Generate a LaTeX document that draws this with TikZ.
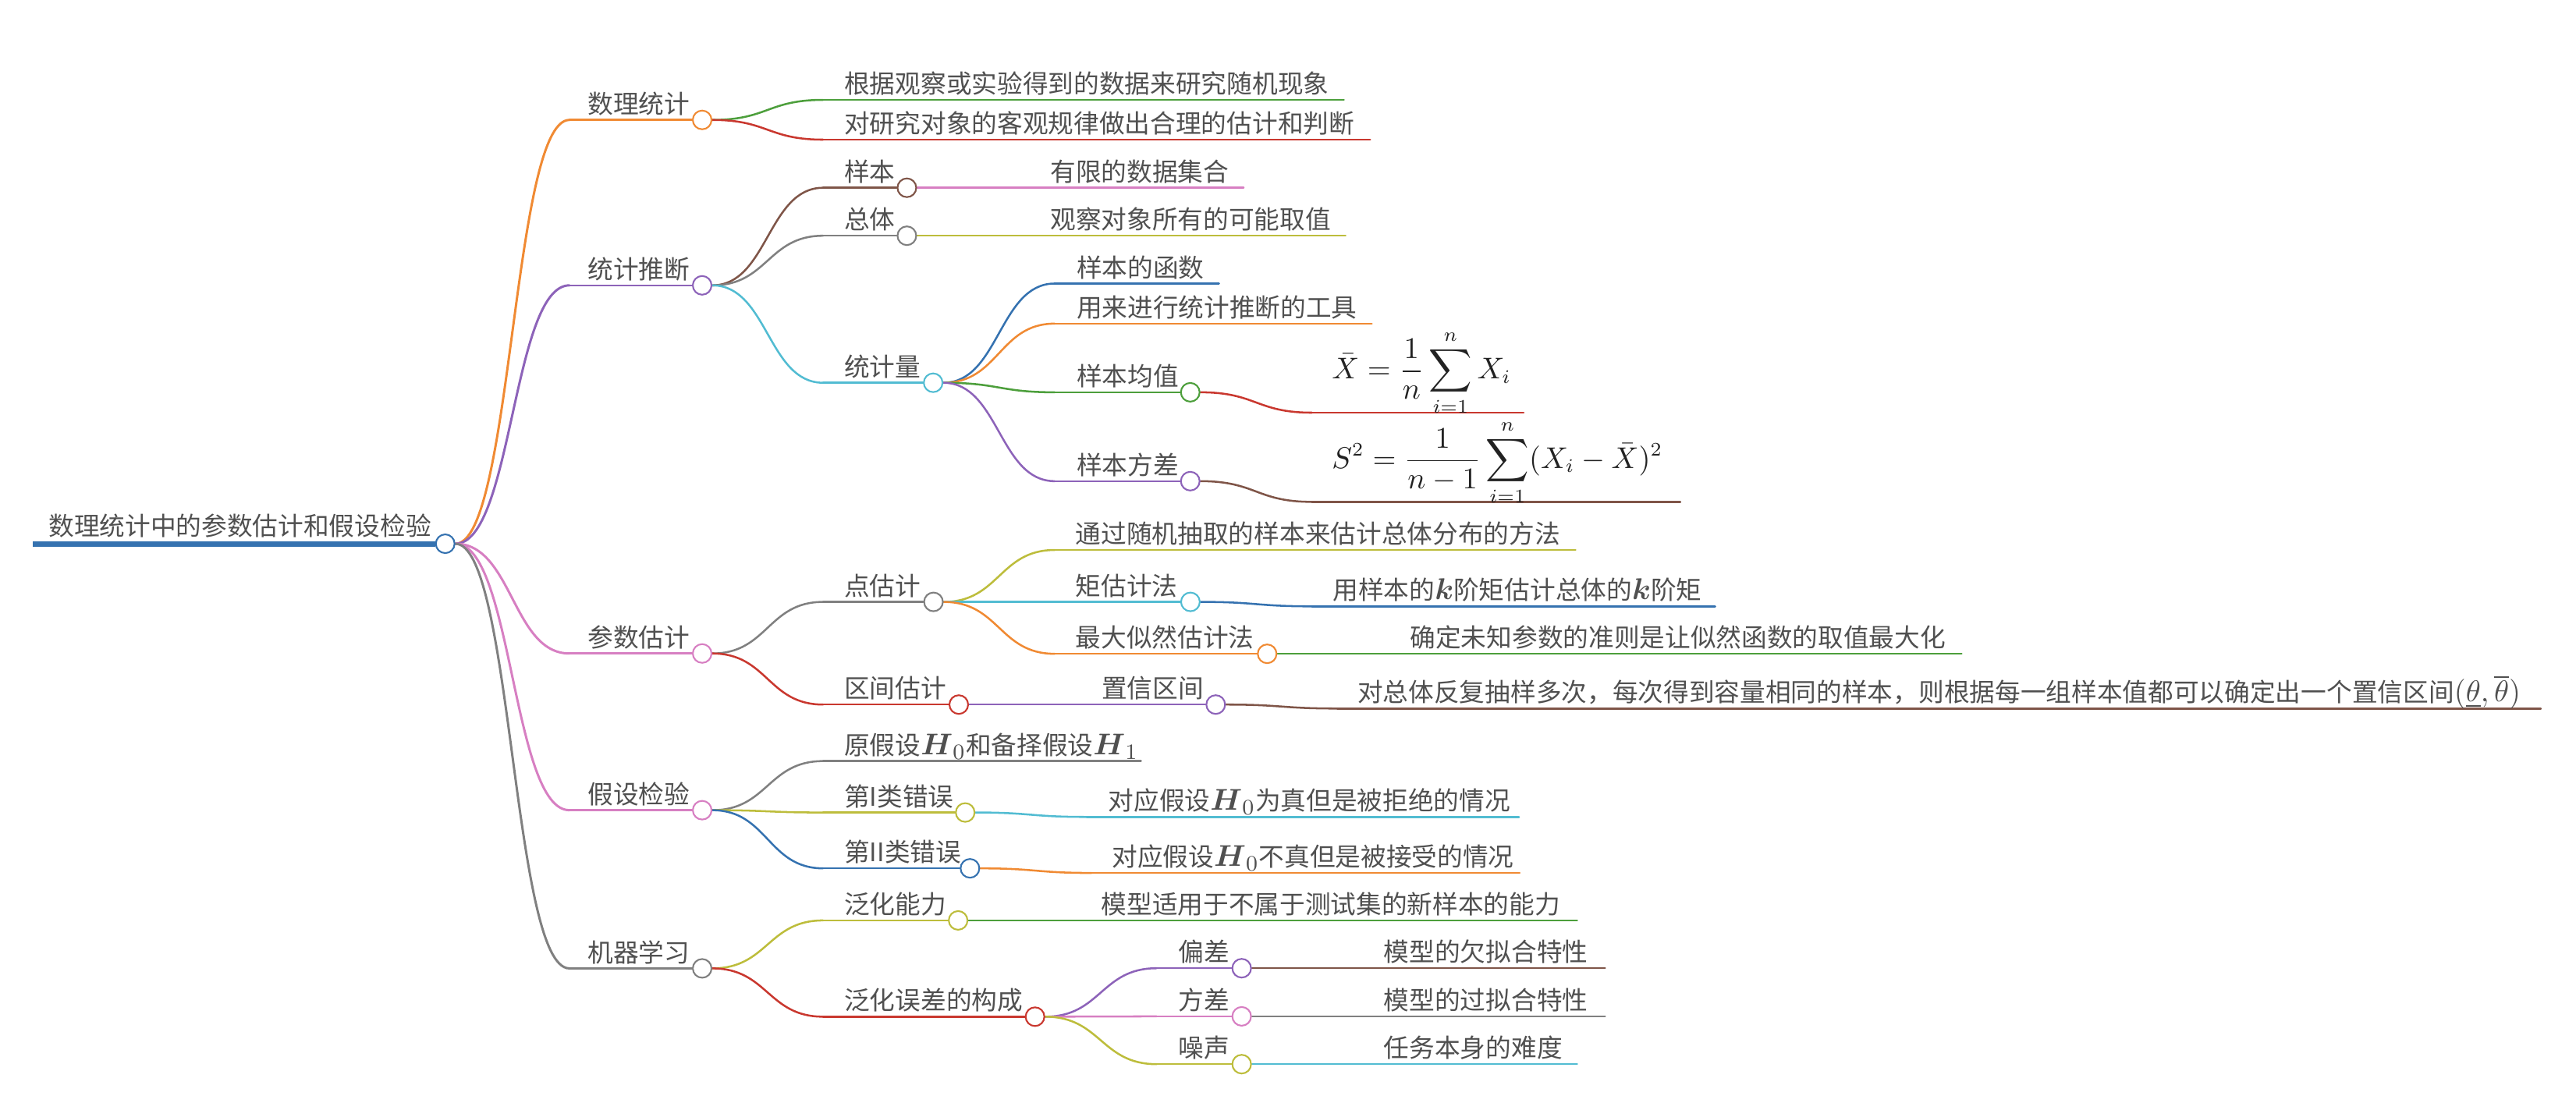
\documentclass[tikz,border=0pt]{standalone}
\usepackage{amsmath}
\usepackage[no-math]{fontspec}
\newfontfamily\cjkf{Noto Sans CJK SC}
\usetikzlibrary{calc}
\definecolor{blueC}{HTML}{3572B0}
\definecolor{orangeC}{HTML}{F08A33}
\definecolor{greenC}{HTML}{4D9F3C}
\definecolor{redC}{HTML}{C9382F}
\definecolor{purpleC}{HTML}{8D63B9}
\definecolor{brownC}{HTML}{7F5548}
\definecolor{pinkC}{HTML}{D77FC2}
\definecolor{grayC}{HTML}{808080}
\definecolor{oliveC}{HTML}{BDBD3C}
\definecolor{cyanC}{HTML}{52BCD2}
\definecolor{txtC}{HTML}{505050}
\definecolor{fmlC}{HTML}{222222}
\pgfdeclarelayer{bg}
\pgfsetlayers{bg,main}
\tikzset{
  txt/.style={font=\cjkf\fontsize{9.3}{11}\selectfont, text=txtC, inner sep=0pt, anchor=base west},
  fml/.style={font=\fontsize{10.7}{13}\selectfont, text=fmlC, inner sep=0pt, anchor=base west},
  dot/.style={circle, draw=#1, fill=white, line width=0.6pt, minimum size=0.24cm, inner sep=0pt},
  branch/.style={draw=#1, line width=0.72pt, line cap=round},
  branchA/.style={draw=#1, line width=0.85pt, line cap=round},
  rootline/.style={draw=#1, line width=2pt},
}
\newcommand{\mmH}[1]{{\fontsize{11}{13}\selectfont$\boldsymbol{H}_{#1}$}}
\newcommand{\mmk}{{\fontsize{11}{13}\selectfont$\boldsymbol{k}$}}
% name, start x, text x, line y, end x, colour, text
\newcommand{\mmnode}[7]{%
  \coordinate (#1s) at (#2,#4);
  \node[txt] (#1t) at (#3,{#4-4}) {#7};
  \node[dot=#6] (#1) at (#5,#4) {};
  \begin{pgfonlayer}{bg}\draw[branch=#6] (#1s) -- (#1);\end{pgfonlayer}}
\newcommand{\mmleaf}[7]{%
  \coordinate (#1s) at (#2,#4);
  \node[txt] (#1t) at (#3,{#4-4}) {#7};
  \coordinate (#1) at (#5,#4);
  \begin{pgfonlayer}{bg}\draw[branch=#6] (#1s) -- (#1);\end{pgfonlayer}}
\newcommand{\mmlink}[4][branch]{%
  \begin{pgfonlayer}{bg}
  \draw[#1=#2] let \p1=(#3.east), \p2=(#4s) in
    (\p1) .. controls ({(\x1+\x2)/2},\y1) and ({(\x1+\x2)/2},\y2) .. (\p2);
  \end{pgfonlayer}}
\begin{document}
\begin{tikzpicture}[x=0.02106cm, y=-0.02106cm]
\useasboundingbox (0,0) rectangle (1568,671);
% root
\coordinate (Rs) at (20,331);
\node[txt] (Rt) at (29.3,326) {数理统计中的参数估计和假设检验};
\node[dot=blueC] (R) at (271,331) {};
\begin{pgfonlayer}{bg}\draw[rootline=blueC] (Rs) -- (R);\end{pgfonlayer}
% level 1
\mmnode{A}{346.6}{357.4}{73}{427.4}{orangeC}{数理统计}
\mmnode{B}{346.6}{357.4}{173.7}{427.4}{purpleC}{统计推断}
\mmnode{C}{346.6}{357.4}{397.8}{427.4}{pinkC}{参数估计}
\mmnode{D}{346.6}{357.4}{493.2}{427.4}{pinkC}{假设检验}
\mmnode{E}{346.6}{357.4}{589.5}{427.4}{grayC}{机器学习}
\mmlink[branchA]{orangeC}{R}{A}
\mmlink[branchA]{purpleC}{R}{B}
\mmlink[branchA]{pinkC}{R}{C}
\mmlink[branchA]{pinkC}{R}{D}
\mmlink[branchA]{grayC}{R}{E}
% 数理统计
\mmleaf{A1}{501}{513.6}{60.8}{818}{greenC}{根据观察或实验得到的数据来研究随机现象}
\mmleaf{A2}{501}{513.6}{85}{834}{redC}{对研究对象的客观规律做出合理的估计和判断}
\mmlink{greenC}{A}{A1}
\mmlink{redC}{A}{A2}
% 统计推断
\mmnode{B1}{501}{513.6}{114.3}{552}{brownC}{样本}
\mmnode{B2}{501}{513.6}{143.5}{552}{grayC}{总体}
\mmnode{B3}{501}{513.6}{233}{568}{cyanC}{统计量}
\mmlink{brownC}{B}{B1}
\mmlink{grayC}{B}{B2}
\mmlink{cyanC}{B}{B3}
\mmleaf{B1a}{626}{639}{114.3}{757}{pinkC}{有限的数据集合}
\mmleaf{B2a}{626}{639}{143.5}{819}{oliveC}{观察对象所有的可能取值}
\mmlink{pinkC}{B1}{B1a}
\mmlink{oliveC}{B2}{B2a}
\mmleaf{B3a}{642}{655}{172.6}{742}{blueC}{样本的函数}
\mmleaf{B3b}{642}{655}{197}{835}{orangeC}{用来进行统计推断的工具}
\mmnode{B3c}{642}{655}{238.8}{724.5}{greenC}{样本均值}
\mmnode{B3d}{642}{655}{292.9}{724.5}{purpleC}{样本方差}
\mmlink{blueC}{B3}{B3a}
\mmlink{orangeC}{B3}{B3b}
\mmlink{greenC}{B3}{B3c}
\mmlink{purpleC}{B3}{B3d}
\coordinate (B3c1s) at (798.5,251.2);
\coordinate (B3c1) at (927.4,251.2);
\node[fml] (B3c1t) at (810.4,230.5) {$\displaystyle \bar{X}=\frac{1}{n}\sum_{i=1}^{n}X_i$};
\begin{pgfonlayer}{bg}\draw[branch=redC] (B3c1s) -- (B3c1);\end{pgfonlayer}
\mmlink{redC}{B3c}{B3c1}
\coordinate (B3d1s) at (798.5,305.5);
\coordinate (B3d1) at (1022.8,305.5);
\node[fml] (B3d1t) at (810.4,285) {$\displaystyle S^2=\frac{1}{n-1}\sum_{i=1}^{n}(X_i-\bar{X})^2$};
\begin{pgfonlayer}{bg}\draw[branch=brownC] (B3d1s) -- (B3d1);\end{pgfonlayer}
\mmlink{brownC}{B3d}{B3d1}
% 参数估计
\mmnode{C1}{501}{513.6}{366.4}{568.2}{grayC}{点估计}
\mmnode{C2}{501}{513.6}{428.9}{583.6}{redC}{区间估计}
\mmlink{grayC}{C}{C1}
\mmlink{redC}{C}{C2}
\mmleaf{C1a}{642}{654.4}{334.8}{959}{oliveC}{通过随机抽取的样本来估计总体分布的方法}
\mmnode{C1b}{642}{654.4}{366.4}{724.6}{cyanC}{矩估计法}
\mmnode{C1c}{642}{654.4}{398}{771.3}{orangeC}{最大似然估计法}
\mmlink{oliveC}{C1}{C1a}
\mmlink{cyanC}{C1}{C1b}
\mmlink{orangeC}{C1}{C1c}
\mmleaf{C1b1}{798.6}{811}{369.1}{1044}{blueC}{用样本的\mmk 阶矩估计总体的\mmk 阶矩}
\mmleaf{C1c1}{845.3}{858}{398}{1194}{greenC}{确定未知参数的准则是让似然函数的取值最大化}
\mmlink{blueC}{C1b}{C1b1}
\mmlink{greenC}{C1c}{C1c1}
\mmnode{C2a}{657.6}{670.3}{428.9}{740}{purpleC}{置信区间}
\mmlink{purpleC}{C2}{C2a}
\mmleaf{C2a1}{814}{826}{431.3}{1546.6}{brownC}{对总体反复抽样多次，每次得到容量相同的样本，则根据每一组样本值都可以确定出一个置信区间{\fontsize{11}{13}\selectfont$(\underline{\theta},\overline{\theta})$}}
\mmlink{brownC}{C2a}{C2a1}
% 假设检验
\mmleaf{D1}{501}{513.6}{463.3}{694.5}{grayC}{原假设\mmH{0}和备择假设\mmH{1}}
\mmnode{D2}{501}{513.6}{494.6}{587.5}{oliveC}{第I类错误}
\mmnode{D3}{501}{513.6}{528.6}{590.4}{blueC}{第II类错误}
\mmlink{grayC}{D}{D1}
\mmlink{oliveC}{D}{D2}
\mmlink{blueC}{D}{D3}
\mmleaf{D2a}{661.5}{674.3}{497.3}{924.6}{cyanC}{对应假设\mmH{0}为真但是被拒绝的情况}
\mmleaf{D3a}{664.4}{676.5}{531.4}{925}{orangeC}{对应假设\mmH{0}不真但是被接受的情况}
\mmlink{cyanC}{D2}{D2a}
\mmlink{orangeC}{D3}{D3a}
% 机器学习
\mmnode{E1}{501}{513.6}{560.3}{583.2}{oliveC}{泛化能力}
\mmnode{E2}{501}{513.6}{618.9}{630}{redC}{泛化误差的构成}
\mmlink{oliveC}{E}{E1}
\mmlink{redC}{E}{E2}
\mmleaf{E1a}{657}{670}{560.3}{960}{greenC}{模型适用于不属于测试集的新样本的能力}
\mmlink{greenC}{E1}{E1a}
\mmnode{E2a}{704}{717}{589.4}{755.8}{purpleC}{偏差}
\mmnode{E2b}{704}{717}{618.7}{755.8}{pinkC}{方差}
\mmnode{E2c}{704}{717}{647.8}{755.8}{oliveC}{噪声}
\mmlink{purpleC}{E2}{E2a}
\mmlink{pinkC}{E2}{E2b}
\mmlink{oliveC}{E2}{E2c}
\mmleaf{E2a1}{829.8}{842}{589.4}{977}{brownC}{模型的欠拟合特性}
\mmleaf{E2b1}{829.8}{842}{618.7}{977}{grayC}{模型的过拟合特性}
\mmleaf{E2c1}{829.8}{842}{647.8}{960}{cyanC}{任务本身的难度}
\mmlink{brownC}{E2a}{E2a1}
\mmlink{grayC}{E2b}{E2b1}
\mmlink{cyanC}{E2c}{E2c1}
\end{tikzpicture}
\end{document}
